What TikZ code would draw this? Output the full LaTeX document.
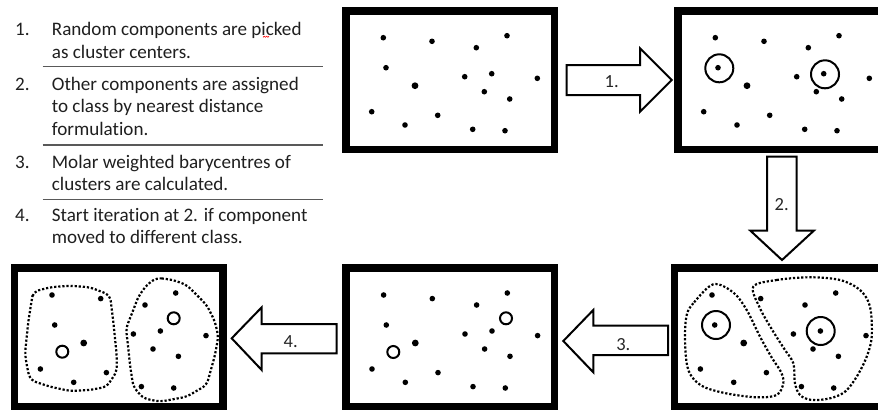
\documentclass[tikz,border=0pt]{standalone}
\usepackage{fontspec}
\setmainfont[Ligatures={NoCommon}]{Carlito}

\tikzset{
  frame/.style={draw=black, line width=7.5pt, rectangle, inner sep=0pt,
                minimum width=208.5pt, minimum height=138.5pt},
  blockarrow/.style={draw=black, line width=2pt, fill=white, line join=miter},
  steplabel/.style={inner sep=0pt, font=\fontsize{18.5}{22}\selectfont, text=black!85},
  listtext/.style={inner sep=0pt, anchor=base west, font=\fontsize{19.1}{22}\selectfont, text=black!88},
  rule/.style={draw=black!65, line width=1.4pt},
  hull/.style={draw=black, line width=2.2pt, dash pattern=on 2.2pt off 1.9pt},
  ring/.style={draw=black, line width=2pt},
}

% the sixteen components, relative to the outer top-left corner of a frame
\newcommand{\pointcloud}{%
  \foreach \px/\py in {41.3/30.7, 90/34.3, 134.3/40.7, 165/28.7, 44/60.7,
      122.7/69.7, 149.7/66.7, 195.3/71.3, 142.3/84.7, 167.7/92,
      29.7/104.7, 63/118, 95.7/108.3, 130.7/122.3, 163/123.7}
    {\fill (\px,\py) circle (2.8pt);}
  \fill (73,78.7) circle (3.4pt);
}

\begin{document}
\begin{tikzpicture}[x=1pt, y=-1pt]
\useasboundingbox (0,0) rectangle (878,410);
\clip (0,0) rectangle (878,410);

% ---- step list ----
\node[listtext] (n1) at (15,35) {1.};
\node[listtext] (l1a) at (51.7,35) {Random components are picked};
\node[listtext] (l1b) at (51.7,58.8) {as cluster centers.};
\draw[red, line width=0.6pt] (263,37.3) -- (264.2,36.2) -- (265.4,37.3) -- (266.6,36.2) -- (267.8,37.3) -- (269,36.2);
\draw[rule] (42.7,66.7) -- (323,66.7);
\node[listtext] (n2) at (15,90) {2.};
\node[listtext] (l2a) at (51.7,90) {Other components are assigned};
\node[listtext] (l2b) at (51.7,112.6) {to class by nearest distance};
\node[listtext] (l2c) at (51.7,135) {formulation.};
\draw[rule] (42.7,145) -- (323,145);
\node[listtext] (n3) at (15,168.3) {3.};
\node[listtext] (l3a) at (51.7,168.3) {Molar weighted barycentres of};
\node[listtext] (l3b) at (51.7,190.7) {clusters are calculated.};
\draw[rule] (42.7,199.5) -- (323,199.5);
\node[listtext] (n4) at (15,221.7) {4.};
\node[listtext] (l4a) at (51.7,221.7) {Start iteration at 2. if component};
\node[listtext] (l4b) at (51.7,243.3) {moved to different class.};

% ---- frames ----
\node[frame] (b1) at (450,80) {};
\node[frame] (b2) at (782,80) {};
\node[frame] (b3) at (778.7,337.3) {};
\node[frame] (b4) at (450.3,337.3) {};
\node[frame] (b5) at (118.7,337.3) {};

% ---- frame 1: components ----
\begin{scope}[shift={(342,7)}]
  \pointcloud
\end{scope}

% ---- frame 2: picked centres ----
\begin{scope}[shift={(674,7)}]
  \pointcloud
  \draw[ring] (45.3,61.3) circle (14pt);
  \draw[ring] (151,67.3) circle (14pt);
\end{scope}

% ---- frame 3: classes ----
\begin{scope}[shift={(670.7,264.3)}]
  \pointcloud
  \draw[ring] (45.3,60.7) circle (14pt);
  \draw[ring] (150,66.7) circle (14pt);
\end{scope}
\draw[hull] plot[smooth cycle, tension=0.55] coordinates {
  (713.3,284.3) (693.3,303.3) (686.7,315) (685,336.7) (686.7,363.3)
  (692,377) (704,387) (727,393.5) (756.7,397.3) (776.7,395)
  (783.3,383.3) (781,372) (772,358) (760,336.7) (746.7,310)
  (733.3,292.5)};
\draw[hull] plot[smooth cycle, tension=0.55] coordinates {
  (753.3,286.7) (776.7,280) (810,277.3) (840,280) (860,290)
  (870,306.7) (871.7,336.7) (866.7,356.7) (856.7,376.7) (845,391.7)
  (830,398.3) (811.7,400) (800,395) (795,383.3) (793.3,363.3)
  (785,350) (773.3,331.7) (760,308.3)};

% ---- frame 4: barycentres ----
\begin{scope}[shift={(342.3,264.3)}]
  \pointcloud
  \draw[ring] (51,87.7) circle (6pt);
  \draw[ring] (163.7,54) circle (6pt);
\end{scope}

% ---- frame 5: reassigned classes ----
\begin{scope}[shift={(10.7,264.3)}]
  \pointcloud
  \draw[ring] (51.6,87.4) circle (6pt);
  \draw[ring] (163,54) circle (6pt);
\end{scope}
\draw[hull, rounded corners=5pt] (33.3,291.7) -- (50,287.3) -- (70,285.7) -- (90,287.3)
  -- (110,295) -- (113.3,321.7) -- (116.7,355) -- (116.7,371.7) -- (106.7,386.7)
  -- (90,390) -- (70,391) -- (50,386.7) -- (30,380) -- (26.7,365) -- (25,353.3)
  -- (28.3,321.7) -- (31.7,300) -- cycle;
\draw[hull, rounded corners=5pt] (156.7,277.7) -- (173.3,280) -- (186.7,285) -- (206.7,305)
  -- (215,321.7) -- (218.3,336.7) -- (215,355) -- (206.7,385) -- (186.7,396.7)
  -- (160,401.7) -- (143.3,398.3) -- (133.3,386.7) -- (130,365) -- (128.3,348.3)
  -- (126,328.3) -- (133.3,310) -- (138.3,296.7) -- (146.7,285) -- cycle;

% ---- block arrows ----
% 1: frame 1 -> frame 2
\draw[blockarrow] (566.7,65) -- (640,65) -- (640,48.3) -- (671.7,80) -- (640,111.7)
  -- (640,95) -- (566.7,95) -- cycle;
\node[steplabel] (a1) at (611.7,81.5) {1.};
% 2: frame 2 -> frame 3
\draw[blockarrow] (767,156.7) -- (796.7,156.7) -- (796.7,230.7) -- (813.8,230.7)
  -- (782,260) -- (750.4,230.7) -- (767,230.7) -- cycle;
\node[steplabel] (a2) at (781.7,205) {2.};
% 3: frame 3 -> frame 4
\draw[blockarrow] (668,325.7) -- (593.3,325.7) -- (593.3,310) -- (563.3,341)
  -- (593.3,372.3) -- (593.3,355) -- (668,355) -- cycle;
\node[steplabel] (a3) at (623.3,344.5) {3.};
% 4: frame 4 -> frame 5
\draw[blockarrow] (336.7,324) -- (261.7,324) -- (261.7,307.3) -- (231.7,338.3)
  -- (261.7,370) -- (261.7,353.3) -- (336.7,353.3) -- cycle;
\node[steplabel] (a4) at (290.7,341.7) {4.};
\end{tikzpicture}
\end{document}
